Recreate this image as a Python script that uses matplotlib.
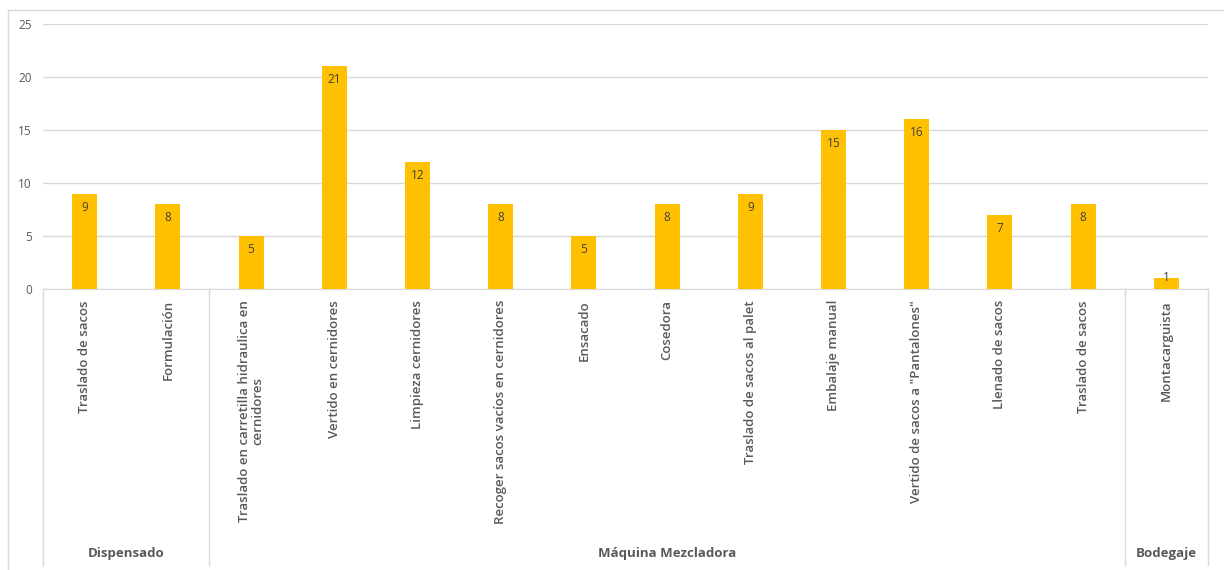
import matplotlib
matplotlib.use('Agg')
import matplotlib.pyplot as plt
import matplotlib.transforms as mtransforms
from matplotlib.patches import Rectangle

# data
actividades = ['Traslado de sacos', 'Formulación',
               'Traslado en carretilla hidraulica en\ncernidores',
               'Vertido en cernidores', 'Limpieza cernidores',
               'Recoger sacos vacíos en cernidores', 'Ensacado', 'Cosedora',
               'Traslado de sacos al palet', 'Embalaje manual',
               'Vertido de sacos a "Pantalones"', 'Llenado de sacos',
               'Traslado de sacos', 'Montacarguista']
valores = [9, 8, 5, 21, 12, 8, 5, 8, 9, 15, 16, 7, 8, 1]
areas = ['Dispensado', 'Máquina Mezcladora', 'Bodegaje']
n_por_area = [2, 11, 1]


def main():
    plt.rcParams['font.family'] = ['Open Sans', 'DejaVu Sans']
    W, H = 1224, 570
    fig = plt.figure(figsize=(W / 100, H / 100), dpi=100)

    # chart frame (cropped at right and bottom like the source)
    fig.patches.append(Rectangle((8 / W, -0.1), 1.2, (H - 10) / H + 0.1, transform=fig.transFigure,
                                 fill=False, edgecolor='#d9d9d9', linewidth=1))

    left, right, top, bottom = 43, 1208, 24, 289
    ax = fig.add_axes([left / W, (H - bottom) / H, (right - left) / W, (bottom - top) / H])

    x = list(range(len(valores)))
    ax.bar(x, valores, width=0.3, color='#ffc000', zorder=3)
    for xi, v in zip(x, valores):
        if v >= 2:
            ax.annotate(str(v), (xi, v), xytext=(0, -5), textcoords='offset points',
                        ha='center', va='top', fontsize=8.5, color='#404040', zorder=4)
        else:
            ax.annotate(str(v), (xi, v), xytext=(0, 1), textcoords='offset points',
                        ha='center', va='center', fontsize=8.5, color='#404040', zorder=4)

    ax.set_ylim(0, 25)
    ax.set_xlim(-0.5, len(valores) - 0.5)
    ax.set_yticks(range(0, 26, 5))
    ax.tick_params(axis='y', length=0, pad=8, labelsize=8.5, labelcolor='#595959')
    ax.yaxis.grid(True, color='#d9d9d9', linewidth=1, zorder=0)
    for s in ['left', 'right', 'top']:
        ax.spines[s].set_visible(False)
    ax.spines['bottom'].set_color('#d9d9d9')

    ax.set_xticks(x)
    ax.set_xticklabels(actividades, rotation=90, ha='center', va='top', fontsize=9.5,
                       fontweight='semibold', color='#595959', multialignment='center',
                       linespacing=1.0)
    ax.tick_params(axis='x', length=0, pad=8)

    # multi-level category separators and group labels
    trans = mtransforms.blended_transform_factory(ax.transData, ax.transAxes)
    depth = (565 - bottom) / (bottom - top)
    ylab = -(553 - bottom) / (bottom - top)
    start = 0
    bounds = [-0.5]
    for area, n in zip(areas, n_por_area):
        ax.text(start + (n - 1) / 2, ylab, area, transform=trans, ha='center', va='center',
                fontsize=9.5, fontweight='bold', color='#595959')
        start += n
        bounds.append(start - 0.5)
    for b in bounds:
        ax.plot([b, b], [0, -depth], transform=trans, color='#d9d9d9', linewidth=1, clip_on=False)

    plt.savefig('out.png', dpi=100)


if __name__ == '__main__':
    main()
